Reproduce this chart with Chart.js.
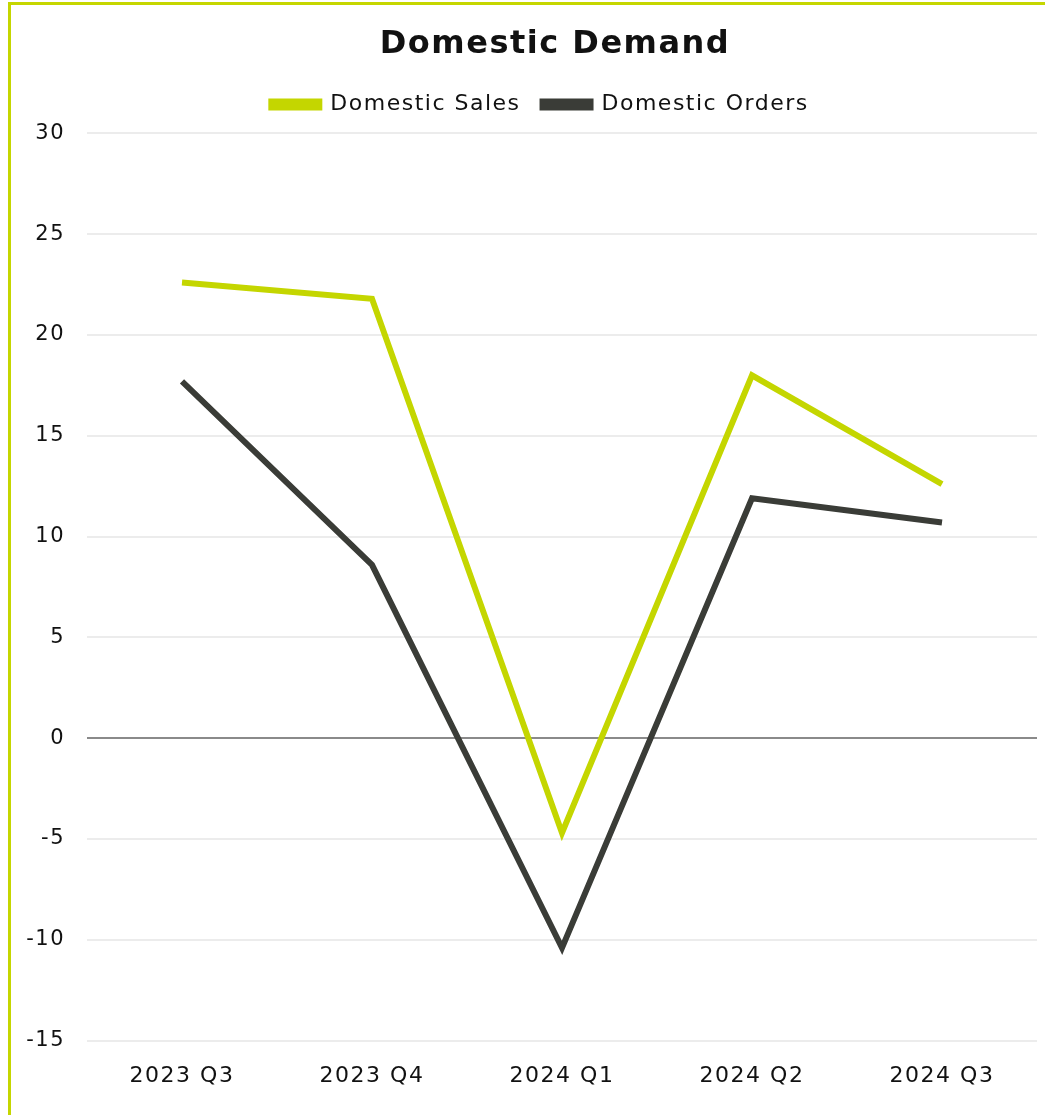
<!DOCTYPE html>
<html>
<head>
<meta charset="utf-8">
<script src="https://cdn.jsdelivr.net/npm/chart.js@4.4.1/dist/chart.umd.min.js"></script>
<style>
  html, body { margin: 0; padding: 0; background: #fff; overflow: hidden; }
  #frame {
    position: absolute; left: 8px; top: 2px;
    width: 1060px; height: 1113px;
    border-left: 3px solid #c5d600;
    border-top: 3px solid #c5d600;
  }
</style>
</head>
<body>
<div id="frame"><canvas id="demand-Chart"></canvas></div>
<script>
const labels = ["2023 Q3", "2023 Q4", "2024 Q1", "2024 Q2", "2024 Q3"];
const domesticSales = [22.6, 21.8, -4.7, 18.0, 12.6];
const domesticOrders = [17.7, 8.6, -10.4, 11.9, 10.7];

const fontFamily = "'DejaVu Sans', sans-serif";

// wide lettering for all texts, title/legend nudged right over the plot,
// legend lifted a bit to leave more room above the plot
const tweaks = {
    id: "tweaks",
    beforeUpdate: (chart) => { chart.ctx.letterSpacing = "1.5px"; },
    afterLayout: (chart) => {
        chart.titleBlock.left += 24;
        chart.titleBlock.right += 24;
        chart.legend.left += 9;
        chart.legend.right += 9;
        chart.legend.top -= 8;
        chart.legend.bottom -= 8;
    },
    beforeDraw: (chart) => { chart.ctx.letterSpacing = "1.5px"; },
};

const data = {
    labels: labels,
    datasets: [
        {
            label: "Domestic Sales",
            data: domesticSales,
            borderColor: "#c4d600",
            backgroundColor: "#c4d600",
            borderWidth: 6,
            pointRadius: 0,
            tension: 0,
        },
        {
            label: "Domestic Orders",
            data: domesticOrders,
            borderColor: "#3a3c37",
            backgroundColor: "#3a3c37",
            borderWidth: 6,
            pointRadius: 0,
            tension: 0,
        },
    ],
};

const config = {
    type: "line",
    data: data,
    plugins: [tweaks],
    options: {
        responsive: false,
        animation: false,
        layout: { padding: { left: 14, right: 34, top: 0, bottom: 12 } },
        plugins: {
            title: {
                display: true,
                text: "Domestic Demand",
                color: "#111",
                font: { family: fontFamily, size: 32, weight: "bold" },
                padding: { top: 20, bottom: 16 },
            },
            legend: {
                labels: {
                    color: "#111",
                    boxWidth: 48,
                    boxHeight: 6,
                    font: { family: fontFamily, size: 22 },
                    padding: 22,
                },
            },
            tooltip: { enabled: false },
        },
        scales: {
            x: {
                offset: true,
                grid: { display: false },
                border: { display: false },
                ticks: {
                    color: "#111",
                    padding: 14,
                    font: { family: fontFamily, size: 22 },
                },
            },
            y: {
                min: -15,
                max: 30,
                afterFit: (s) => { s.width = 62; },
                border: { display: false },
                grid: {
                    drawTicks: false,
                    color: (c) => (c.tick && c.tick.value === 0 ? "#8a8a8a" : "#ececec"),
                    lineWidth: 2,
                },
                ticks: {
                    stepSize: 5,
                    color: "#111",
                    padding: 22,
                    font: { family: fontFamily, size: 21 },
                },
            },
        },
    },
};

const canvas = document.getElementById("demand-Chart");
canvas.width = 1060;
canvas.height = 1110;
let myChart = new Chart(canvas, config);
</script>
</body>
</html>
